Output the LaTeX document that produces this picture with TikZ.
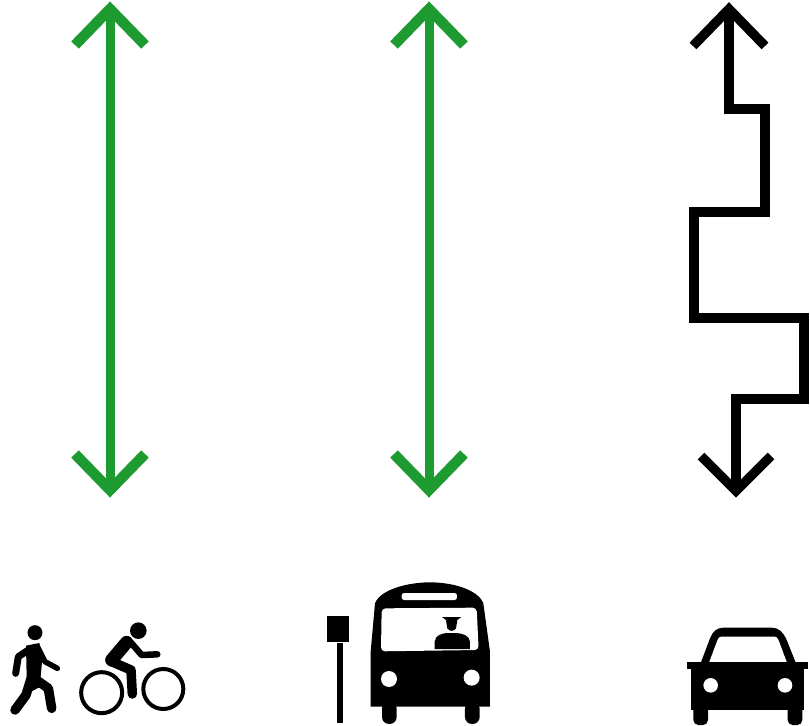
\documentclass[tikz,border=0pt]{standalone}
\usepackage{tikz}
\definecolor{routegreen}{RGB}{29,154,48}

\begin{document}
\begin{tikzpicture}[
    x=1pt,
    y=-1pt,
    line join=miter,
    route/.style={line width=9pt,routegreen},
    routehead/.style={line width=10.5pt,routegreen},
    detour/.style={line width=9.5pt,black},
    limb/.style={black,line cap=round,line join=round},
    zoomA/.style={shift={(0,605)},x=0.3333pt,y=-0.3333pt},
    zoomB/.style={shift={(320,575)},x=0.3333pt,y=-0.3333pt},
    zoomC/.style={shift={(680,615)},x=0.3333pt,y=-0.3333pt}
]
\useasboundingbox (0,0) rectangle (810,725);

% green arrows
\foreach \px in {110,429} {
    \draw[route] (\px,6) -- (\px,490);
    \draw[routehead] (\px-35,45) -- (\px,9) -- (\px+35,45);
    \draw[routehead] (\px-35,454) -- (\px,490) -- (\px+35,454);
}

% black arrow
\coordinate (T) at (729,9);
\coordinate (S1) at (729,109);
\coordinate (S2) at (765,109);
\coordinate (S3) at (765,212);
\coordinate (S4) at (694,212);
\coordinate (S5) at (694,318);
\coordinate (S6) at (804,318);
\coordinate (S7) at (804,399);
\coordinate (S8) at (736,399);
\coordinate (U) at (736,491);
\draw[detour] (T) -- (S1) -- (S2) -- (S3) -- (S4) -- (S5) -- (S6) -- (S7) -- (S8) -- (U);
\draw[detour] (693,46) -- (T) -- (765,46);
\draw[detour] (701,456) -- (U) -- (771,456);

% pedestrian and cyclist
\begin{scope}[zoomA]
\fill (105,83) circle (7.5pt);
\fill[limb] (78,122) -- (118,114) -- (128,150) -- (122,215) -- (130,240) -- (90,262) -- (80,215) -- cycle;
\draw[limb,line width=7pt] (85,135) -- (55,155) -- (47,205);
\draw[limb,line width=5.5pt] (115,130) -- (135,170) -- (172,190);
\draw[limb,line width=9.5pt] (95,215) -- (78,270) -- (45,315);
\draw[limb,line width=9.5pt] (105,222) -- (145,250) -- (155,310);
\fill (415,77) circle (8.3pt);
\draw[line width=4pt] (305,263) circle (20.5pt);
\draw[line width=4pt] (490,252) circle (20pt);
\draw[limb,line width=13pt] (380,112) -- (335,165);
\draw[limb,line width=6.5pt] (392,112) -- (425,150) -- (472,148);
\draw[limb,line width=9.5pt] (335,170) -- (393,195) -- (397,267);
\end{scope}

% bus and stop
\begin{scope}[zoomB]
\fill (22,122) rectangle (88,200);
\fill (50,205) rectangle (68,443);
\fill (152,395) -- (152,230) -- (165,85) .. controls (180,45) and (260,22) .. (330,22)
    .. controls (400,22) and (475,45) .. (490,85) -- (510,230) -- (510,395) -- cycle;
\fill[rounded corners=7pt] (186,380) -- (230,380) -- (230,447) -- (186,447) -- cycle;
\fill[rounded corners=7pt] (435,380) -- (479,380) -- (479,447) -- (435,447) -- cycle;
\fill[white,rounded corners=4pt] (185,100) -- (470,98) -- (476,225) -- (183,229) -- cycle;
\fill[white,rounded corners=2.5pt] (245,54) rectangle (411,75);
\fill[white] (207,312) circle (8pt);
\fill[white] (455,308) circle (8pt);
% driver
\fill (366,126) -- (424,126) -- (408,138) -- (382,138) -- cycle;
\fill (378,136) -- (412,136) -- (408,160) .. controls (402,170) and (388,170) .. (382,160) -- cycle;
\fill (344,222) -- (344,200) .. controls (346,180) and (365,176) .. (380,174)
    -- (410,174) .. controls (430,176) and (448,182) .. (450,200) -- (450,222) -- cycle;
\end{scope}

% car
\begin{scope}[zoomC]
\fill (60,150) -- (90,70) .. controls (98,50) and (110,38) .. (130,38) -- (275,38)
    .. controls (295,38) and (308,50) .. (318,70) -- (350,150) -- cycle;
\fill[white,rounded corners=2pt] (86,146) -- (112,76) .. controls (116,68) and (120,65) .. (130,65)
    -- (278,65) .. controls (288,65) and (292,68) .. (296,76) -- (322,146) -- cycle;
\fill (22,141) rectangle (383,161);
\fill (34,150) rectangle (372,285);
\fill[rounded corners=5pt] (40,270) -- (84,270) -- (84,330) -- (40,330) -- cycle;
\fill[rounded corners=5pt] (323,270) -- (367,270) -- (367,330) -- (323,330) -- cycle;
\fill[white] (92,211) circle (7.3pt);
\fill[white] (315,211) circle (7.3pt);
\end{scope}
\end{tikzpicture}
\end{document}
